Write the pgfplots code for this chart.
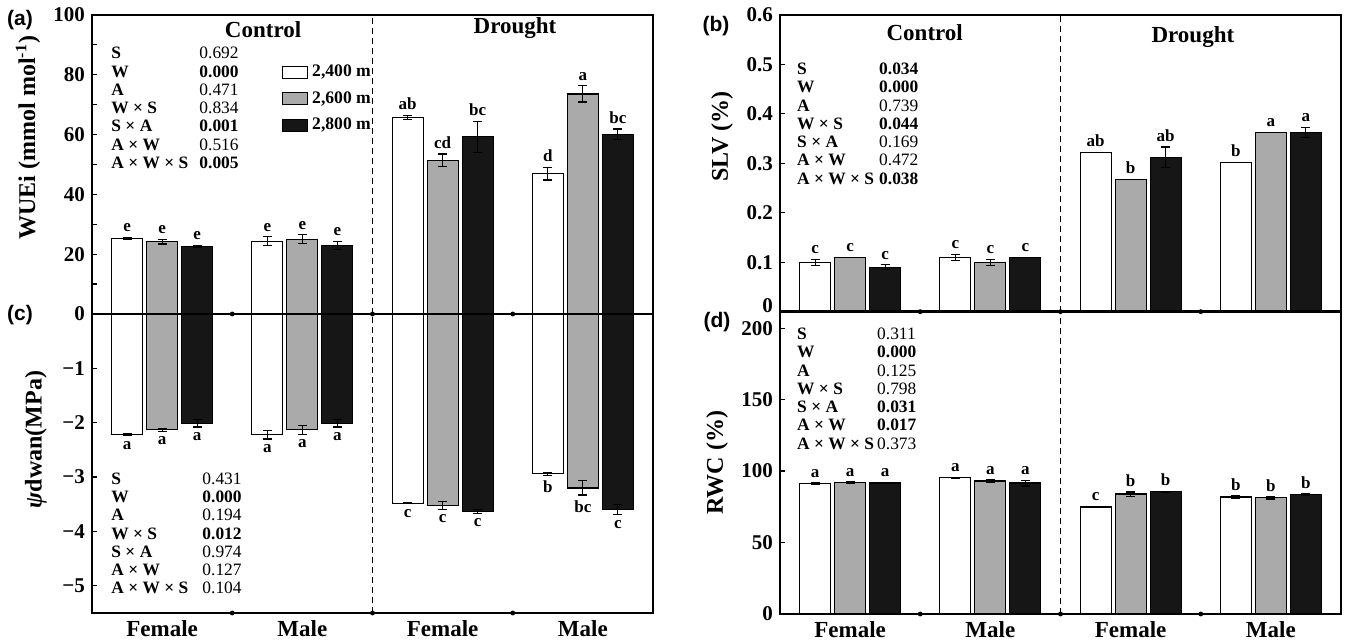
\documentclass[border=0pt]{standalone}
\usepackage{fontspec}
\setmainfont{Liberation Serif}
\newfontfamily\panelfont{Liberation Sans}
\usepackage{pgfplots}
\usepackage{pgfplotstable}
\pgfplotsset{compat=1.18}

\definecolor{bargray}{RGB}{170,170,170}
\definecolor{barblack}{RGB}{22,22,22}

% x = group centre; w/g/k = 2,400 / 2,600 / 2,800 m; e = SE; l = letter
\pgfplotstableread{
x   w     we   wl  g     ge   gl  k     ke   kl
0.5 25.2  0.4  e   24.2  0.8  e   22.7  0.3  e
1.5 24.3  1.5  e   25.0  1.5  e   23.0  1.3  e
2.5 65.8  0.7  ab  51.4  2.1  cd  59.3  5.2  bc
3.5 46.9  2.1  d   73.6  2.7  a   60.1  1.8  bc
}\wuei
\pgfplotstableread{
x   w      we    wl  g      ge    gl  k      ke    kl
0.5 -2.22  0.02  a   -2.13  0.03  a   -2.01  0.07  a
1.5 -2.22  0.08  a   -2.13  0.08  a   -2.01  0.07  a
2.5 -3.48  0.01  c   -3.52  0.07  c   -3.63  0.04  c
3.5 -2.94  0.03  b   -3.20  0.13  bc  -3.60  0.09  c
}\psid
\pgfplotstableread{
x   w      we     wl  g      ge     gl  k      ke     kl
0.5 0.100  0.006  c   0.110  0.000  c   0.090  0.005  c
1.5 0.110  0.006  c   0.100  0.006  c   0.110  0.000  c
2.5 0.322  0.000  ab  0.268  0.000  b   0.312  0.021  ab
3.5 0.302  0.000  b   0.363  0.000  a   0.363  0.010  a
}\slv
\pgfplotstableread{
x   w     we   wl  g     ge   gl  k     ke   kl
0.5 91.1  0.6  a   92.0  0.3  a   91.6  0.4  a
1.5 95.3  0.4  a   93.0  0.8  a   91.6  2.0  a
2.5 74.8  0.5  c   83.9  1.5  b   85.5  0.3  b
3.5 81.8  0.8  b   81.3  0.8  b   83.6  0.5  b
}\rwc

\newcommand{\stats}[8]{\begin{tabular}{@{}p{#1}@{}l@{}}
\textbf{S} & #2\\ \textbf{W} & #3\\ \textbf{A} & #4\\
\textbf{W × S} & #5\\ \textbf{S × A} & #6\\ \textbf{A × W} & #7\\
\textbf{A × W × S} & #8
\end{tabular}}

\pgfplotsset{
  panel/.style={
    scale only axis, width=280.5pt, xmin=0, xmax=4, clip=false,
    /pgf/number format/assume math mode=true,
    axis line style={line width=1.2pt},
    tick align=inside, ytick pos=left, xtick pos=bottom,
    major tick length=2.5pt, minor tick length=2.5pt,
    every tick/.style={black, line width=0.6pt},
    xtick style={draw=none},
    yticklabel style={font=\bfseries\fontsize{10.5}{12}\selectfont},
    xticklabel style={font=\bfseries\fontsize{11.5}{13.8}\selectfont},
    ylabel style={font=\bfseries\fontsize{12}{14}\selectfont, anchor=center},
  },
  bottomx/.style={xtick={0.5,1.5,2.5,3.5}, xticklabels={Female,Male,Female,Male}},
  bars/.style={ybar, bar width=0.221, bar shift=0pt, draw=black, line width=0.6pt,
    error bars/.cd, y dir=both, y explicit,
    error bar style={line width=0.6pt, black},
    error mark options={rotate=90, black, line width=0.6pt, mark size=2.3pt}},
  lettersup/.style={forget plot, draw=none, mark=none, nodes near coords,
    point meta=explicit symbolic,
    nodes near coords style={anchor=south, inner sep=2.5pt, black,
      font=\bfseries\fontsize{8.5}{10}\selectfont}},
  lettersdown/.style={lettersup, nodes near coords style={anchor=north}},
  dots/.style={forget plot, only marks, mark=*, mark size=1pt, black},
  divider/.style={forget plot, black, line width=0.6pt, dash pattern=on 3pt off 2pt},
}

\begin{document}
\begin{tikzpicture}
\path (0,0) rectangle (673pt,-320.5pt);

% (a) WUEi
\begin{axis}[panel, at={(46pt,-7.5pt)}, anchor=north west, height=149.5pt,
  ymin=0, ymax=100, xtick=\empty,
  ytick={20,40,60,80,100}, minor ytick={10,30,50,70,90},
  yticklabels={\textbf{20},\textbf{40},\textbf{60},\textbf{80},\textbf{100}},
  ylabel={WUEi (mmol mol\textsuperscript{-1})},
  ylabel style={at={(axis description cs:-0.114,0.59)}},
  legend style={at={(rel axis cs:0.338,0.848)}, anchor=north west, draw=none, fill=none,
    inner sep=0pt, row sep=2pt, font=\bfseries\fontsize{8.8}{10}\selectfont,
    /tikz/every even column/.append style={column sep=0pt}},
  legend image code/.code={\draw[#1] (0pt,-3pt) rectangle (12.5pt,3pt);},
]
\addplot[fill=white, bars] table[x expr=\thisrow{x}-0.2496, y=w, y error=we] {\wuei};
\addlegendentry{2,400 m}
\addplot[fill=bargray, bars] table[x=x, y=g, y error=ge] {\wuei};
\addlegendentry{2,600 m}
\addplot[fill=barblack, bars] table[x expr=\thisrow{x}+0.2496, y=k, y error=ke] {\wuei};
\addlegendentry{2,800 m}
\addplot[lettersup] table[x expr=\thisrow{x}-0.2496, y expr=\thisrow{w}+\thisrow{we}, meta=wl] {\wuei};
\addplot[lettersup] table[x=x, y expr=\thisrow{g}+\thisrow{ge}, meta=gl] {\wuei};
\addplot[lettersup] table[x expr=\thisrow{x}+0.2496, y expr=\thisrow{k}+\thisrow{ke}, meta=kl] {\wuei};
\addplot[divider] coordinates {(2,0) (2,100)};
\addplot[dots] coordinates {(1,0) (2,0) (3,0)};
\node[font=\bfseries\fontsize{11.5}{13.8}\selectfont] at (rel axis cs:0.305,0.95) {Control};
\node[font=\bfseries\fontsize{11.5}{13.8}\selectfont] at (rel axis cs:0.754,0.957) {Drought};
\node[anchor=north west, inner sep=0pt, font=\fontsize{8.7}{9.15}\selectfont] at (rel axis cs:0.034,0.898)
  {\stats{44pt}{0.692}{\textbf{0.000}}{0.471}{0.834}{\textbf{0.001}}{0.516}{\textbf{0.005}}};
\end{axis}

% (c) predawn water potential
\begin{axis}[panel, bottomx, at={(46pt,-157pt)}, anchor=north west, height=149.5pt,
  ymin=-5.5, ymax=0,
  ytick={-5,-4,-3,-2,-1,0},
  yticklabels={\textbf{−5},\textbf{−4},\textbf{−3},\textbf{−2},\textbf{−1},\textbf{0}},
  ylabel={\textit{ψ}dwan(MPa)},
  ylabel style={at={(axis description cs:-0.10,0.58)}},
]
\addplot[fill=white, bars] table[x expr=\thisrow{x}-0.2496, y=w, y error=we] {\psid};
\addplot[fill=bargray, bars] table[x=x, y=g, y error=ge] {\psid};
\addplot[fill=barblack, bars] table[x expr=\thisrow{x}+0.2496, y=k, y error=ke] {\psid};
\addplot[lettersdown] table[x expr=\thisrow{x}-0.2496, y expr=\thisrow{w}-\thisrow{we}, meta=wl] {\psid};
\addplot[lettersdown] table[x=x, y expr=\thisrow{g}-\thisrow{ge}, meta=gl] {\psid};
\addplot[lettersdown] table[x expr=\thisrow{x}+0.2496, y expr=\thisrow{k}-\thisrow{ke}, meta=kl] {\psid};
\addplot[divider] coordinates {(2,-5.5) (2,0)};
\addplot[dots] coordinates {(1,-5.5) (2,-5.5) (3,-5.5)};
\node[anchor=north west, inner sep=0pt, font=\fontsize{8.7}{9.15}\selectfont] at (rel axis cs:0.034,0.475)
  {\stats{45.5pt}{0.431}{\textbf{0.000}}{0.194}{\textbf{0.012}}{0.974}{0.127}{0.104}};
\end{axis}

% (b) SLV
\begin{axis}[panel, at={(390pt,-7.5pt)}, anchor=north west, height=148.35pt,
  ymin=0, ymax=0.6, xtick=\empty,
  ytick={0.1,0.2,0.3,0.4,0.5,0.6},
  yticklabels={\textbf{0.1},\textbf{0.2},\textbf{0.3},\textbf{0.4},\textbf{0.5},\textbf{0.6}},
  extra y ticks={0}, extra y tick labels={\textbf{0}},
  extra y tick style={yticklabel style={yshift=3pt}},
  ylabel={SLV (\%)},
  ylabel style={at={(axis description cs:-0.103,0.59)}},
]
\addplot[fill=white, bars] table[x expr=\thisrow{x}-0.2496, y=w, y error=we] {\slv};
\addplot[fill=bargray, bars] table[x=x, y=g, y error=ge] {\slv};
\addplot[fill=barblack, bars] table[x expr=\thisrow{x}+0.2496, y=k, y error=ke] {\slv};
\addplot[lettersup] table[x expr=\thisrow{x}-0.2496, y expr=\thisrow{w}+\thisrow{we}, meta=wl] {\slv};
\addplot[lettersup] table[x=x, y expr=\thisrow{g}+\thisrow{ge}, meta=gl] {\slv};
\addplot[lettersup] table[x expr=\thisrow{x}+0.2496, y expr=\thisrow{k}+\thisrow{ke}, meta=kl] {\slv};
\addplot[divider] coordinates {(2,0) (2,0.6)};
\addplot[dots] coordinates {(1,0) (2,0) (3,0)};
\node[font=\bfseries\fontsize{11.5}{13.8}\selectfont] at (rel axis cs:0.258,0.939) {Control};
\node[font=\bfseries\fontsize{11.5}{13.8}\selectfont] at (rel axis cs:0.736,0.926) {Drought};
\node[anchor=north west, inner sep=0pt, font=\fontsize{8.7}{9.15}\selectfont] at (rel axis cs:0.030,0.844)
  {\stats{41pt}{\textbf{0.034}}{\textbf{0.000}}{0.739}{\textbf{0.044}}{0.169}{0.472}{\textbf{0.038}}};
\end{axis}

% (d) RWC
\begin{axis}[panel, bottomx, at={(390pt,-155.85pt)}, anchor=north west, height=151.15pt,
  ymin=0, ymax=211.5,
  ytick={0,50,100,150,200},
  yticklabels={\textbf{0},\textbf{50},\textbf{100},\textbf{150},\textbf{200}},
  ylabel={RWC (\%)},
  ylabel style={at={(axis description cs:-0.112,0.5)}},
]
\addplot[fill=white, bars] table[x expr=\thisrow{x}-0.2496, y=w, y error=we] {\rwc};
\addplot[fill=bargray, bars] table[x=x, y=g, y error=ge] {\rwc};
\addplot[fill=barblack, bars] table[x expr=\thisrow{x}+0.2496, y=k, y error=ke] {\rwc};
\addplot[lettersup] table[x expr=\thisrow{x}-0.2496, y expr=\thisrow{w}+\thisrow{we}, meta=wl] {\rwc};
\addplot[lettersup] table[x=x, y expr=\thisrow{g}+\thisrow{ge}, meta=gl] {\rwc};
\addplot[lettersup] table[x expr=\thisrow{x}+0.2496, y expr=\thisrow{k}+\thisrow{ke}, meta=kl] {\rwc};
\addplot[divider] coordinates {(2,0) (2,211.5)};
\addplot[dots] coordinates {(1,0) (2,0) (3,0)};
\node[anchor=north west, inner sep=0pt, font=\fontsize{8.7}{9.15}\selectfont] at (rel axis cs:0.030,0.952)
  {\stats{40pt}{0.311}{\textbf{0.000}}{0.125}{0.798}{\textbf{0.031}}{\textbf{0.017}}{0.373}};
\end{axis}

% panel letters
\node[font=\panelfont\bfseries\fontsize{10.5}{12}\selectfont] at (10pt,-10pt) {(a)};
\node[font=\panelfont\bfseries\fontsize{10.5}{12}\selectfont] at (10pt,-157.5pt) {(c)};
\node[font=\panelfont\bfseries\fontsize{10.5}{12}\selectfont] at (358pt,-13pt) {(b)};
\node[font=\panelfont\bfseries\fontsize{10.5}{12}\selectfont] at (358.5pt,-161pt) {(d)};
\end{tikzpicture}
\end{document}
